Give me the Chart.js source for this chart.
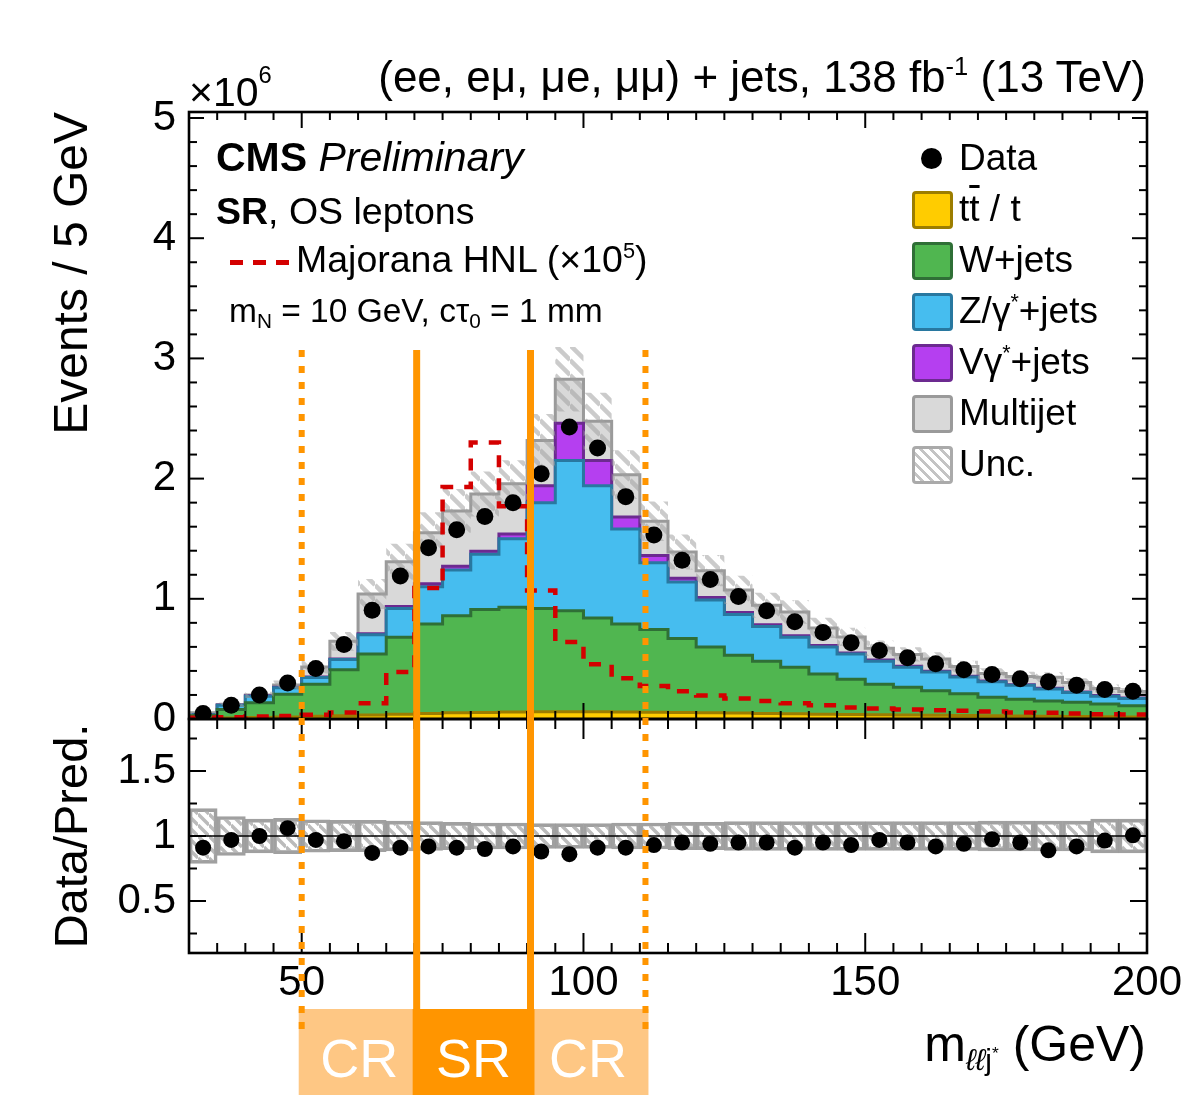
<!DOCTYPE html>
<html lang="en">
<head>
<meta charset="UTF-8">
<title>SR, OS leptons - m(llj*) distribution</title>
<style>
    body {
        margin: 0;
        background: #fff;
    }
    #page {
        position: relative;
        width: 1188px;
        height: 1095px;
        overflow: hidden;
        font-family: "Liberation Sans", Arial, Helvetica, sans-serif;
        color: #000;
    }
    #plot {
        position: absolute;
        left: 0;
        top: 0;
    }
    .txt {
        position: absolute;
        white-space: nowrap;
        line-height: 1;
    }
    .txt sup {
        font-size: 0.58em;
        vertical-align: 0.65em;
        line-height: 0;
    }
    .txt sub {
        font-size: 0.62em;
        vertical-align: -0.3em;
        line-height: 0;
    }
    .legbox {
        position: absolute;
        box-sizing: border-box;
        width: 41px;
        height: 38px;
        border: 3.5px solid;
        border-radius: 4px;
    }
</style>
<script src="https://cdn.jsdelivr.net/npm/chart.js"></script>
</head>
<body>
<div id="page">
    <canvas id="plot" width="1188" height="1095"></canvas>
</div>

<script>
// ---- binning and axes ----
const xMin = 30, xMax = 200, binWidth = 5;
const binLow = [30, 35, 40, 45, 50, 55, 60, 65, 70, 75, 80, 85, 90, 95, 100, 105, 110,
                115, 120, 125, 130, 135, 140, 145, 150, 155, 160, 165, 170, 175, 180, 185, 190, 195];
const xTickLabels = [50, 100, 150, 200];
const yTickLabels = [0, 1, 2, 3, 4, 5];          // x 10^6
const ratioTickLabels = [0.5, 1, 1.5];
const regionEdges = [50, 70.4, 90.6, 111];      // CR | SR | CR boundaries
const regionNames = ['CR', 'SR', 'CR'];

// ---- events / 5 GeV, in units of 10^6 ----
const data = [0.046, 0.115, 0.20, 0.30, 0.42, 0.62, 0.905, 1.19, 1.425, 1.575, 1.685, 1.80, 2.04, 2.43,
              2.255, 1.85, 1.53, 1.32, 1.16, 1.02, 0.90, 0.81, 0.72, 0.635, 0.57, 0.51, 0.46, 0.41,
              0.37, 0.335, 0.31, 0.28, 0.245, 0.23];
const ttbar = [0.006, 0.009, 0.013, 0.017, 0.022, 0.028, 0.034, 0.040, 0.046, 0.051, 0.055, 0.058, 0.060,
               0.060, 0.060, 0.059, 0.057, 0.055, 0.052, 0.049, 0.046, 0.043, 0.040, 0.037, 0.035, 0.033,
               0.031, 0.029, 0.027, 0.025, 0.023, 0.021, 0.019, 0.017];
const wJets = [0.024, 0.071, 0.122, 0.188, 0.268, 0.382, 0.506, 0.640, 0.744, 0.809, 0.855, 0.872, 0.860,
               0.840, 0.780, 0.731, 0.688, 0.615, 0.548, 0.481, 0.434, 0.387, 0.335, 0.293, 0.255, 0.232,
               0.204, 0.181, 0.153, 0.140, 0.127, 0.119, 0.106, 0.093];
const zJets = [0.005, 0.035, 0.055, 0.055, 0.055, 0.085, 0.16, 0.24, 0.31, 0.38, 0.46, 0.57, 0.88, 1.25,
               1.10, 0.79, 0.555, 0.47, 0.39, 0.34, 0.29, 0.25, 0.225, 0.21, 0.19, 0.165, 0.155, 0.14,
               0.13, 0.115, 0.10, 0.08, 0.065, 0.06];
const vGammaJets = [0.001, 0.002, 0.003, 0.005, 0.005, 0.005, 0.01, 0.015, 0.025, 0.03, 0.025, 0.04, 0.14,
                    0.31, 0.21, 0.10, 0.06, 0.03, 0.02, 0.015, 0.015, 0.013, 0.012, 0.01, 0.01, 0.008,
                    0.007, 0.006, 0.006, 0.005, 0.005, 0.005, 0.005, 0.004];
const multijet = [0.015, 0.002, 0.007, 0.018, 0.083, 0.146, 0.33, 0.373, 0.424, 0.461, 0.477, 0.417, 0.378,
                  0.366, 0.328, 0.353, 0.285, 0.219, 0.224, 0.189, 0.162, 0.197, 0.146, 0.133, 0.098, 0.099,
                  0.103, 0.080, 0.063, 0.068, 0.093, 0.079, 0.059, 0.055];
// Majorana HNL signal, already scaled by 10^5
const signal = [0.01, 0.015, 0.02, 0.025, 0.035, 0.055, 0.13, 0.39, 1.09, 1.93, 2.30, 1.77, 1.07, 0.64,
                0.455, 0.34, 0.275, 0.23, 0.195, 0.17, 0.15, 0.13, 0.115, 0.095, 0.087, 0.08, 0.073,
                0.068, 0.062, 0.055, 0.052, 0.045, 0.04, 0.037];
// lower panel
const ratio = [0.91, 0.97, 1.00, 1.06, 0.97, 0.96, 0.87, 0.91, 0.92, 0.91, 0.90, 0.92, 0.88, 0.86, 0.91,
               0.91, 0.93, 0.95, 0.94, 0.95, 0.95, 0.91, 0.95, 0.93, 0.97, 0.95, 0.92, 0.94, 0.975, 0.95,
               0.89, 0.92, 0.965, 1.005];
const relUnc = [0.21, 0.15, 0.13, 0.135, 0.125, 0.12, 0.12, 0.115, 0.11, 0.105, 0.10, 0.10, 0.095, 0.095,
                0.095, 0.10, 0.10, 0.105, 0.105, 0.11, 0.11, 0.11, 0.11, 0.11, 0.11, 0.11, 0.11, 0.11,
                0.115, 0.115, 0.115, 0.115, 0.13, 0.13];

const family = '"Liberation Sans", Arial, Helvetica, sans-serif';
const page = document.getElementById('page');

// histogram helpers: stepped lines through the bin edges
const edges = binLow.concat([xMax]);
const steps = vals => edges.map((x, i) => ({ x: x, y: vals[Math.min(i, vals.length - 1)] }));
const centers = binLow.map(v => v + binWidth / 2);

// cumulative stack, bottom to top
const layers = [
    { name: 'ttbar', vals: ttbar, fill: '#ffcc00', edge: '#9c7d00' },
    { name: 'W+jets', vals: wJets, fill: '#50b650', edge: '#2f6f36' },
    { name: 'Z/gamma*+jets', vals: zJets, fill: '#46bdef', edge: '#2878a0' },
    { name: 'Vgamma*+jets', vals: vGammaJets, fill: '#b53ff0', edge: '#6c2a90' },
    { name: 'Multijet', vals: multijet, fill: '#d9d9d9', edge: '#9a9a9a' }
];
let running = binLow.map(() => 0);
const cumulative = layers.map(l => (running = running.map((v, i) => v + l.vals[i])));
const total = cumulative[cumulative.length - 1];

function hatch(size, color, width) {
    const c = document.createElement('canvas');
    c.width = c.height = size;
    const g = c.getContext('2d');
    g.strokeStyle = color;
    g.lineWidth = width;
    g.beginPath();
    for (const o of [-size, 0, size]) {
        g.moveTo(0, o);
        g.lineTo(size, o + size);
    }
    g.stroke();
    return g.createPattern(c, 'repeat');
}

const datasets = [];
layers.forEach((l, i) => {
    datasets.push({
        label: l.name,
        data: steps(cumulative[i]),
        stepped: 'before',
        borderColor: l.edge,
        borderWidth: 3,
        backgroundColor: l.fill,
        fill: i === 0 ? 'origin' : '-1',
        pointRadius: 0,
        yAxisID: 'y',
        order: 3 + i
    });
});
datasets.push({
    label: 'unc low',
    data: steps(total.map((t, i) => t * (1 - relUnc[i]))),
    stepped: 'before', borderWidth: 0, pointRadius: 0, fill: false,
    yAxisID: 'y', order: 2
});
datasets.push({
    label: 'Unc.',
    data: steps(total.map((t, i) => t * (1 + relUnc[i]))),
    stepped: 'before', borderWidth: 0, pointRadius: 0,
    fill: '-1', backgroundColor: hatch(15, 'rgba(160,160,160,0.55)', 4.5),
    yAxisID: 'y', order: 2
});
datasets.push({
    label: 'Majorana HNL',
    data: steps(signal),
    stepped: 'before',
    borderColor: '#d40000', borderWidth: 4.5, borderDash: [12, 11],
    pointRadius: 0, fill: false, yAxisID: 'y', order: 1
});
datasets.push({
    label: 'Data',
    data: centers.map((x, i) => ({ x: x, y: data[i] })),
    showLine: false, pointRadius: 8.5, pointBackgroundColor: '#000', pointBorderWidth: 0,
    yAxisID: 'y', order: 0
});
datasets.push({
    type: 'bar',
    label: 'ratio unc',
    data: centers.map((x, i) => ({ x: x, y: [1 - relUnc[i], 1 + relUnc[i]] })),
    backgroundColor: hatch(11, 'rgba(175,175,175,0.85)', 3.5),
    borderColor: 'rgba(150,150,150,0.9)', borderWidth: 3, borderSkipped: false,
    barPercentage: 1, categoryPercentage: 1,
    yAxisID: 'yr', order: 2
});
datasets.push({
    label: 'unity',
    data: [{ x: xMin, y: 1 }, { x: xMax, y: 1 }],
    borderColor: '#000', borderWidth: 1.5, pointRadius: 0, fill: false,
    yAxisID: 'yr', order: 1
});
datasets.push({
    label: 'Data/Pred.',
    data: centers.map((x, i) => ({ x: x, y: ratio[i] })),
    showLine: false, pointRadius: 8, pointBackgroundColor: '#000', pointBorderWidth: 0,
    yAxisID: 'yr', order: 0
});

// frames, inward ticks, CR/SR markers
const decor = {
    id: 'decor',
    afterDraw(chart) {
        const { ctx, chartArea } = chart;
        const { x, y, yr } = chart.scales;
        const L = chartArea.left, R = chartArea.right;
        const seg = (x1, y1, x2, y2) => { ctx.beginPath(); ctx.moveTo(x1, y1); ctx.lineTo(x2, y2); ctx.stroke(); };
        ctx.save();
        ctx.strokeStyle = '#000';
        ctx.lineWidth = 2;
        const panels = [
            { s: y, xMaj: 16, xMin: 8, yMaj: 15, yMin: 8, step: 0.2, majStep: 1 },
            { s: yr, xMaj: 20, xMin: 10, yMaj: 17, yMin: 8, step: 0.25, majStep: 0.5 }
        ];
        for (const p of panels) {
            for (let v = xMin; v <= xMax + 1e-9; v += binWidth) {
                const px = x.getPixelForValue(v);
                const len = v % 50 === 0 ? p.xMaj : p.xMin;
                seg(px, p.s.bottom, px, p.s.bottom - len);
                seg(px, p.s.top, px, p.s.top + len);
            }
            const k0 = Math.ceil(p.s.min / p.step - 1e-9), k1 = Math.floor(p.s.max / p.step + 1e-9);
            for (let k = k0; k <= k1; k++) {
                const v = k * p.step;
                const py = p.s.getPixelForValue(v);
                const q = v / p.majStep;
                const len = Math.abs(q - Math.round(q)) < 1e-6 ? p.yMaj : p.yMin;
                seg(L, py, L + len, py);
                seg(R, py, R - len, py);
            }
        }
        ctx.lineWidth = 2.6;
        ctx.strokeRect(L, y.top, R - L, y.bottom - y.top);
        ctx.strokeRect(L, yr.top, R - L, yr.bottom - yr.top);

        const ex = regionEdges.map(v => x.getPixelForValue(v));
        const boxTop = yr.bottom + 56;
        ctx.fillStyle = '#fec784';
        ctx.fillRect(ex[0] - 3, boxTop, ex[3] - ex[0] + 6, chart.height - boxTop);
        ctx.fillStyle = '#ff9500';
        ctx.fillRect(ex[1] - 4, boxTop, ex[2] - ex[1] + 8, chart.height - boxTop);
        const lineTop = y.getPixelForValue(3.07);
        ctx.strokeStyle = '#ff9500';
        ctx.lineWidth = 7;
        seg(ex[1], lineTop, ex[1], boxTop);
        seg(ex[2], lineTop, ex[2], boxTop);
        ctx.lineWidth = 6;
        ctx.setLineDash([7, 9]);
        seg(ex[0], lineTop, ex[0], boxTop + 26);
        seg(ex[3], lineTop, ex[3], boxTop + 26);
        ctx.restore();
    }
};

const tickFont = { family: family, size: 42 };
const chart = new Chart(document.getElementById('plot'), {
    type: 'line',
    data: { datasets: datasets },
    options: {
        responsive: false,
        animation: false,
        devicePixelRatio: 1,
        events: [],
        layout: { padding: { top: 112, right: 41, bottom: 0, left: 0 } },
        plugins: { legend: { display: false }, tooltip: { enabled: false } },
        scales: {
            x: {
                type: 'linear', min: xMin, max: xMax, offset: false,
                grid: { display: false }, border: { display: false },
                ticks: { font: tickFont, color: '#000', padding: -3, maxRotation: 0, autoSkip: false,
                         callback: v => String(v) },
                afterBuildTicks: s => { s.ticks = xTickLabels.map(v => ({ value: v })); },
                afterFit: s => { s.height = 142; }
            },
            yr: {
                type: 'linear', position: 'left', stack: 'panels', stackWeight: 234,
                min: 0.1, max: 1.9,
                grid: { display: false }, border: { display: false },
                ticks: { font: tickFont, color: '#000', padding: 5, callback: v => String(v) },
                afterBuildTicks: s => { s.ticks = ratioTickLabels.map(v => ({ value: v })); },
                title: { display: true, text: 'Data/Pred.', color: '#000', align: 'center',
                         font: { family: family, size: 47 }, padding: { top: 46, bottom: 0 } },
                afterFit: s => { s.width = 189; }
            },
            y: {
                type: 'linear', position: 'left', stack: 'panels', stackWeight: 607,
                min: 0, max: 5.05,
                grid: { display: false }, border: { display: false },
                ticks: { font: tickFont, color: '#000', padding: 5, callback: v => String(v) },
                afterBuildTicks: s => { s.ticks = yTickLabels.map(v => ({ value: v })); },
                title: { display: true, text: 'Events / 5 GeV', color: '#000', align: 'end',
                         font: { family: family, size: 48 }, padding: { top: 45, bottom: 0 } },
                afterFit: s => { s.width = 189; }
            }
        }
    },
    plugins: [decor]
});

// ---- text overlays ----
function addText(html, o) {
    const d = document.createElement('div');
    d.className = 'txt';
    d.innerHTML = html;
    d.style.fontSize = o.size + 'px';
    d.style.top = (o.base - 0.8465 * o.size) + 'px';
    if (o.right !== undefined) {
        d.style.right = (1188 - o.right) + 'px';
    } else if (o.center !== undefined) {
        d.style.left = o.center + 'px';
        d.style.transform = 'translateX(-50%)';
    } else {
        d.style.left = o.left + 'px';
    }
    if (o.color) d.style.color = o.color;
    page.appendChild(d);
    return d;
}

addText('(ee, e&mu;, &mu;e, &mu;&mu;) + jets, 138 fb<sup>-1</sup> (13 TeV)', { right: 1146, base: 92, size: 44 });
addText('&times;10<sup style="vertical-align:0.95em">6</sup>', { left: 189, base: 107, size: 41 });
addText('<b>CMS</b> <i>Preliminary</i>', { left: 216, base: 172, size: 41 });
addText('<b>SR</b>, OS leptons', { left: 216, base: 225, size: 37.5 });
addText('Majorana HNL (&times;10<sup>5</sup>)', { left: 296, base: 273, size: 37.5 });
addText('m<sub>N</sub> = 10 GeV, c&tau;<sub>0</sub> = 1 mm', { left: 229, base: 322, size: 33.5 });
addText('m<span style="font-size:30px;vertical-align:-9px;font-style:italic">&#8467;&#8467;</span>' +
        '<span style="font-size:30px;vertical-align:-9px">j<sup>*</sup></span> (GeV)',
        { right: 1146, base: 1061, size: 50 });

// signal line sample
const sample = document.createElement('div');
sample.style.cssText = 'position:absolute;left:230px;top:260px;width:60px;height:4.5px;' +
    'background:repeating-linear-gradient(90deg,#d40000 0 13px,transparent 13px 23px);';
page.appendChild(sample);

// legend
const legendNames = ['t<span style="text-decoration:overline">t</span> / t', 'W+jets',
                     'Z/&gamma;<sup>*</sup>+jets', 'V&gamma;<sup>*</sup>+jets', 'Multijet', 'Unc.'];
const legendRows = [210, 261, 312, 363, 414, 465];
const dot = document.createElement('div');
dot.style.cssText = 'position:absolute;left:921px;top:148px;width:21px;height:21px;border-radius:50%;background:#000;';
page.appendChild(dot);
addText('Data', { left: 959, base: 170, size: 37 });
legendNames.forEach((name, i) => {
    const b = document.createElement('div');
    b.className = 'legbox';
    b.style.left = '912px';
    b.style.top = (legendRows[i] - 19) + 'px';
    if (i < layers.length) {
        b.style.background = layers[i].fill;
        b.style.borderColor = layers[i].edge;
    } else {
        b.style.borderColor = '#aaaaaa';
        b.style.background = 'repeating-linear-gradient(45deg, #fff 0 4px, #c4c4c4 4px 7px)';
    }
    page.appendChild(b);
    addText(name, { left: 959, base: legendRows[i] + 11, size: 37 });
});

// CR / SR labels centred in the boxes drawn on the canvas
const xs = chart.scales.x;
regionNames.forEach((name, i) => {
    const c = (xs.getPixelForValue(regionEdges[i]) + xs.getPixelForValue(regionEdges[i + 1])) / 2;
    addText(name, { center: c, base: 1077, size: 54, color: '#fff' });
});
</script>
</body>
</html>
